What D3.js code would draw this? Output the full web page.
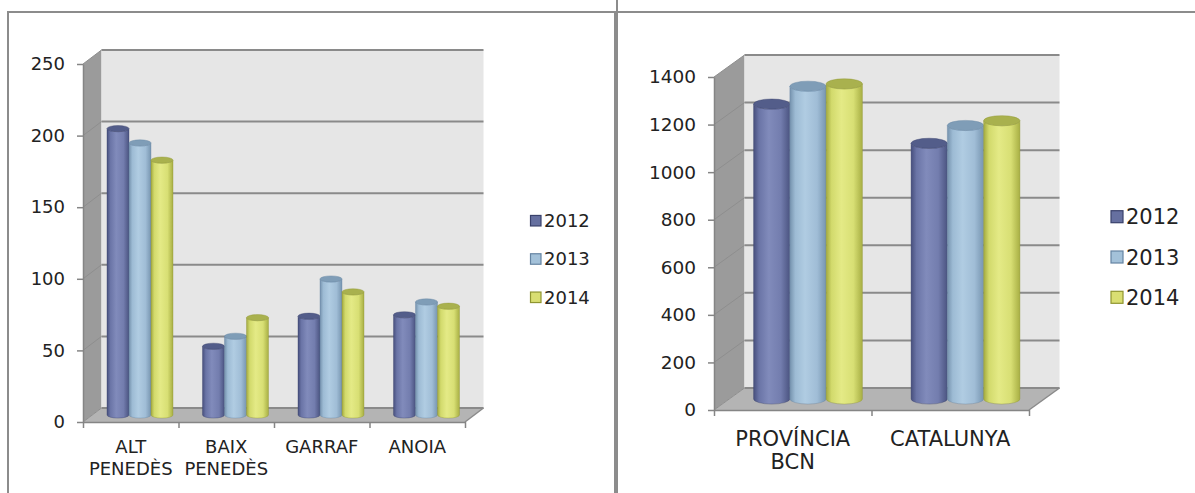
<!DOCTYPE html>
<html>
<head>
<meta charset="utf-8">
<script src="https://cdn.jsdelivr.net/npm/d3@7"></script>
<style>
  html, body { margin: 0; padding: 0; background: #fff; }
  svg { display: block; font-family: 'DejaVu Sans', Verdana, sans-serif; }
</style>
</head>
<body>
<svg id="chart" width="1195" height="493"></svg>
<script>
const years = ['2012', '2013', '2014'];

const comarques = ['ALT\nPENEDÈS', 'BAIX\nPENEDÈS', 'GARRAF', 'ANOIA'];
const comarques2012 = [200, 48, 69, 70];
const comarques2013 = [190, 55, 95, 79];
const comarques2014 = [178, 68, 86, 76];
const comarquesTicks = [0, 50, 100, 150, 200, 250];

const territoris = ['PROVÍNCIA\nBCN', 'CATALUNYA'];
const territoris2012 = [1240, 1075];
const territoris2013 = [1315, 1150];
const territoris2014 = [1325, 1170];
const territorisTicks = [0, 200, 400, 600, 800, 1000, 1200, 1400];

// shading for each year: body gradient stops (left -> right), top cap, legend swatch
const yearStyles = [
  { stops: ['#474f7d', '#6a74a6', '#818bbb', '#737dae', '#4b5481'], top: '#535d8a', swatch: '#6670a0', edge: '#39416b' },
  { stops: ['#7592ad', '#9dbbd4', '#b0cce2', '#a0bdd6', '#7795b0'], top: '#7f9db7', swatch: '#a3c1d9', edge: '#6584a2' },
  { stops: ['#a3aa40', '#d2da6c', '#e4ea86', '#d8df74', '#a8af44'], top: '#a9b14e', swatch: '#d9de72', edge: '#8f9530' },
];

const svg = d3.select('#chart');
const defs = svg.append('defs');

yearStyles.forEach((s, i) => {
  const grad = defs.append('linearGradient')
    .attr('id', 'cyl' + i)
    .attr('x1', '0%').attr('x2', '100%')
    .attr('y1', '0%').attr('y2', '0%');
  const offsets = [0, 0.15, 0.42, 0.75, 1];
  s.stops.forEach((c, k) => {
    grad.append('stop').attr('offset', offsets[k]).attr('stop-color', c);
  });
});

// panel frames
svg.append('rect')
  .attr('x', 8).attr('y', 12)
  .attr('width', 607).attr('height', 495)
  .attr('fill', 'none')
  .attr('stroke', '#8c8c8c')
  .attr('stroke-width', 2);

svg.append('path')
  .attr('d', 'M617,0 V493 M617,12 H1195')
  .attr('fill', 'none')
  .attr('stroke', '#8c8c8c')
  .attr('stroke-width', 2);

function drawChart(cfg) {
  const { x0, x1, y0, yTop, dx, dy, ticks, labels, series } = cfg;
  const g = svg.append('g');
  const gridColor = '#8a8a8a';

  const y = d3.scaleLinear().domain([0, d3.max(ticks)]).range([y0, yTop]);
  const x = d3.scaleBand().domain(labels).range([x0, x1]);
  const xs = d3.scaleBand().domain(years).range([0, x.bandwidth()]).paddingOuter(0.67);
  const xi = d3.scaleLinear().domain([0, labels.length]).range([x0, x1]);

  // walls
  g.append('polygon')
    .attr('points', [[x0, y0], [x0 + dx, y0 - dy], [x0 + dx, yTop - dy], [x0, yTop]].join(' '))
    .attr('fill', '#9b9b9b');
  g.append('polygon')
    .attr('points', [[x0, y0], [x1, y0], [x1 + dx, y0 - dy], [x0 + dx, y0 - dy]].join(' '))
    .attr('fill', '#b4b4b4');
  g.append('rect')
    .attr('x', x0 + dx).attr('y', yTop - dy)
    .attr('width', x1 - x0).attr('height', y0 - yTop)
    .attr('fill', '#e6e6e6');

  // gridlines on back wall and side wall
  const grid = g.append('g')
    .attr('stroke', gridColor)
    .attr('fill', 'none');
  grid.selectAll('line.back')
    .data(ticks)
    .join('line')
    .attr('class', 'back')
    .attr('x1', x0 + dx).attr('x2', x1 + dx)
    .attr('y1', (d) => y(d) - dy).attr('y2', (d) => y(d) - dy)
    .attr('stroke-width', 2);
  grid.selectAll('line.side')
    .data(ticks)
    .join('line')
    .attr('class', 'side')
    .attr('x1', x0).attr('x2', x0 + dx)
    .attr('y1', (d) => y(d)).attr('y2', (d) => y(d) - dy)
    .attr('stroke', '#8e8e8e')
    .attr('stroke-width', 1);
  grid.append('line')
    .attr('x1', x1).attr('y1', y0)
    .attr('x2', x1 + dx).attr('y2', y0 - dy)
    .attr('stroke-width', 1.5);

  // cylinders
  const bars = g.append('g');
  labels.forEach((label, i) => {
    series.forEach((vals, j) => {
      const rx = xs.bandwidth() / 2;
      const ry = rx * 0.28;
      const cx = x(label) + xs(years[j]) + rx + dx / 2;
      const yb = y(0) - dy / 2;
      const yt = y(vals[i]) - dy / 2;
      const st = yearStyles[j];
      bars.append('path')
        .attr('d', `M${cx - rx},${yt} L${cx - rx},${yb} A${rx},${ry} 0 0 0 ${cx + rx},${yb} L${cx + rx},${yt} A${rx},${ry} 0 0 1 ${cx - rx},${yt} Z`)
        .attr('fill', `url(#cyl${j})`)
        .attr('stroke', st.edge)
        .attr('stroke-opacity', 0.45)
        .attr('stroke-width', 0.8);
      bars.append('ellipse')
        .attr('cx', cx).attr('cy', yt)
        .attr('rx', rx).attr('ry', ry)
        .attr('fill', st.top)
        .attr('stroke', st.edge)
        .attr('stroke-opacity', 0.5)
        .attr('stroke-width', 0.8);
    });
  });

  // value axis
  const yAxis = g.append('g')
    .attr('transform', `translate(${x0},0)`)
    .call(d3.axisLeft(y).tickValues(ticks).tickFormat(d3.format('d'))
      .tickSize(6).tickSizeOuter(0).tickPadding(12));
  yAxis.select('.domain').attr('stroke', '#858585').attr('stroke-width', 1.5);
  yAxis.selectAll('.tick line').attr('stroke', '#858585').attr('stroke-width', 1.5);
  yAxis.selectAll('.tick text')
    .attr('fill', '#222')
    .style('font-size', cfg.tickFont + 'px')
    .style('font-family', "'DejaVu Sans', Verdana, sans-serif");

  // category axis: ticks between categories
  const xAxis = g.append('g')
    .attr('transform', `translate(0,${y0})`)
    .call(d3.axisBottom(xi).tickValues(d3.range(labels.length + 1)).tickFormat('').tickSize(6).tickSizeOuter(0));
  xAxis.select('.domain').attr('stroke', '#858585').attr('stroke-width', 1.5);
  xAxis.selectAll('.tick line').attr('stroke', '#858585').attr('stroke-width', 1.5);

  const catLabels = g.append('g')
    .attr('fill', '#222')
    .style('font-size', cfg.catFont + 'px')
    .attr('text-anchor', 'middle');
  labels.forEach((label) => {
    const t = catLabels.append('text')
      .attr('x', x(label) + x.bandwidth() / 2)
      .attr('y', y0 + cfg.catOffset);
    label.split('\n').forEach((line, k) => {
      t.append('tspan')
        .attr('x', x(label) + x.bandwidth() / 2)
        .attr('dy', k === 0 ? 0 : cfg.catLine)
        .text(line);
    });
  });

  // legend
  const legend = g.append('g')
    .attr('transform', `translate(${cfg.legendX},${cfg.legendY})`);
  years.forEach((yr, j) => {
    const row = legend.append('g').attr('transform', `translate(0,${j * cfg.legendGap})`);
    row.append('rect')
      .attr('x', 0.5).attr('y', -cfg.swatch / 2)
      .attr('width', cfg.swatch).attr('height', cfg.swatch)
      .attr('fill', yearStyles[j].swatch)
      .attr('stroke', yearStyles[j].edge)
      .attr('stroke-width', 1.2);
    row.append('text')
      .attr('x', cfg.swatch + 3.5)
      .attr('dy', '0.36em')
      .attr('fill', '#222')
      .style('font-size', cfg.legendFont + 'px')
      .text(yr);
  });
}

drawChart({
  x0: 83, x1: 465, y0: 422, yTop: 64, dx: 18.5, dy: 14,
  ticks: comarquesTicks,
  labels: comarques,
  series: [comarques2012, comarques2013, comarques2014],
  tickFont: 18, catFont: 18, catOffset: 31, catLine: 21.7,
  legendX: 530, legendY: 220.7, legendGap: 38.3, legendFont: 18, swatch: 10.5,
});

drawChart({
  x0: 714, x1: 1029, y0: 410, yTop: 77, dx: 30.5, dy: 22,
  ticks: territorisTicks,
  labels: territoris,
  series: [territoris2012, territoris2013, territoris2014],
  tickFont: 18.5, catFont: 21, catOffset: 35.5, catLine: 23.3,
  legendX: 1110.5, legendY: 216.7, legendGap: 40.3, legendFont: 21, swatch: 12,
});
</script>
</body>
</html>
